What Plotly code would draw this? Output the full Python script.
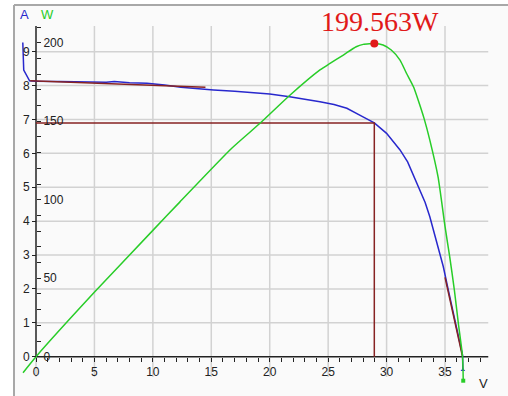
import plotly.graph_objects as go

# ---------------- data ----------------
# I-V curve (blue): voltage [V], current [A]
iv_voltage = [-1.13, -1.12, -1.05, -0.55, 0.0, 2.0, 4.0, 6.0, 6.7, 8.0, 9.5, 11.0, 12.4,
              14.1, 15.2, 17.0, 18.5, 20.0, 21.7, 23.0, 24.3, 25.5, 26.6, 27.7, 28.95,
              30.0, 31.15, 31.8, 32.3, 32.86, 33.3, 33.7, 34.3, 34.85, 35.28, 35.71,
              36.14, 36.5, 36.53]
iv_current = [9.27, 8.9, 8.46, 8.14, 8.13, 8.12, 8.11, 8.10, 8.12, 8.08, 8.07, 8.02, 7.95,
              7.89, 7.87, 7.83, 7.79, 7.75, 7.67, 7.60, 7.52, 7.44, 7.33, 7.13, 6.90,
              6.59, 6.10, 5.75, 5.36, 4.92, 4.55, 4.13, 3.35, 2.66, 1.97, 1.28,
              0.59, 0.05, -0.39]

# P-V curve (green): voltage [V], power [W]
pv_voltage = [-1.11, 0.0, 5.05, 10.0, 12.3, 16.75, 19.17, 21.7, 24.3, 25.16, 26.3, 27.4,
              28.0, 28.6, 28.95, 29.7, 30.4, 31.15, 31.7, 32.3, 32.7, 33.2, 33.7, 34.4,
              35.0, 35.4, 35.8, 36.14, 36.5, 36.56]
pv_power = [-10.2, 0.0, 41.5, 80.5, 98.5, 132.8, 148.7, 166.4, 182.7, 186.9, 192.2, 197.5,
            199.0, 199.4, 199.563, 198.6, 195.4, 189.0, 180.6, 172.0, 163.6, 152.0, 138.0,
            114.7, 83.0, 63.7, 42.5, 21.3, 0.0, -15.3]

# maximum power point
mpp_voltage = 28.95
mpp_power = 199.563
mpp_current = 6.893
mpp_label = "199.563W"

# tangent (fit) segments near Isc and Voc (brown)
isc_fit_voltage = [-0.5, 14.5]
isc_fit_current = [8.14, 7.95]
voc_fit_voltage = [35.0, 36.5]
voc_fit_current = [2.34, 0.0]

# ticks
v_ticks = [0, 5, 10, 15, 20, 25, 30, 35]
v_minor = [v for v in range(1, 39) if v % 5 != 0]
a_ticks = [0, 1, 2, 3, 4, 5, 6, 7, 8, 9]
w_ticks = [0, 50, 100, 150, 200]
w_minor = [w for w in range(10, 220, 10) if w % 50 != 0]

# axis extents
V_RANGE = [-1.883, 40.39]
A_RANGE = [-1.160, 10.378]
W_RANGE = [-25.04, 224.09]
V_AXIS_END = 38.7
A_AXIS_TOP = 9.76
GRID_BOTTOM = -0.6

# ---------------- styling ----------------
W_PX, H_PX = 508, 396
BLUE = "rgb(40,40,205)"
GREEN = "rgb(40,205,40)"
BROWN = "rgb(135,35,35)"
RED = "rgb(225,25,25)"
GRID = "#d2d2d2"
FONT = "Liberation Sans, Arial, sans-serif"


def px_x(p):
    return p / W_PX


def px_y(p):
    return 1 - p / H_PX


fig = go.Figure()

# I-V curve
fig.add_trace(go.Scatter(x=iv_voltage, y=iv_current, mode="lines",
                         line=dict(color=BLUE, width=1.5), yaxis="y"))
fig.add_trace(go.Scatter(x=[iv_voltage[-1]], y=[iv_current[-1]], mode="markers",
                         marker=dict(color=BLUE, size=4, symbol="triangle-up"), yaxis="y"))

# brown helper lines
fig.add_trace(go.Scatter(x=[0, mpp_voltage, mpp_voltage], y=[mpp_current, mpp_current, 0],
                         mode="lines", line=dict(color=BROWN, width=1.5), yaxis="y"))
fig.add_trace(go.Scatter(x=isc_fit_voltage, y=isc_fit_current, mode="lines",
                         line=dict(color=BROWN, width=1.5), yaxis="y"))
fig.add_trace(go.Scatter(x=voc_fit_voltage, y=voc_fit_current, mode="lines",
                         line=dict(color=BROWN, width=1.5), yaxis="y"))

# P-V curve
fig.add_trace(go.Scatter(x=pv_voltage, y=pv_power, mode="lines", line_shape="spline",
                         line=dict(color=GREEN, width=1.5, smoothing=0.6), yaxis="y2"))
fig.add_trace(go.Scatter(x=[pv_voltage[-1]], y=[pv_power[-1]], mode="markers",
                         marker=dict(color=GREEN, size=4, symbol="square"), yaxis="y2"))

# MPP dot
fig.add_trace(go.Scatter(x=[mpp_voltage], y=[mpp_power], mode="markers",
                         marker=dict(color=RED, size=8), yaxis="y2"))

# grid + axis lines as shapes
shapes = []
for v in v_ticks[1:]:
    shapes.append(dict(type="line", xref="x", yref="y", x0=v, x1=v,
                       y0=GRID_BOTTOM, y1=A_AXIS_TOP, layer="below",
                       line=dict(color=GRID, width=1.5)))
shapes.append(dict(type="line", xref="x", yref="y", x0=0, x1=0,
                   y0=GRID_BOTTOM, y1=0, layer="below", line=dict(color=GRID, width=1.5)))
for a in a_ticks[1:]:
    shapes.append(dict(type="line", xref="x", yref="y", x0=0, x1=V_AXIS_END,
                       y0=a, y1=a, layer="below", line=dict(color=GRID, width=1.5)))
# axis lines
shapes.append(dict(type="line", xref="x", yref="y", x0=0, x1=V_AXIS_END, y0=0, y1=0,
                   line=dict(color="#222", width=1.5), layer="below"))
shapes.append(dict(type="line", xref="x", yref="y", x0=0, x1=0, y0=0, y1=A_AXIS_TOP,
                   line=dict(color="#222", width=1.5), layer="below"))
# panel border (left and top)
shapes.append(dict(type="line", xref="paper", yref="paper", x0=px_x(14), x1=px_x(14),
                   y0=0, y1=px_y(5), line=dict(color="#a8a8a8", width=2)))
shapes.append(dict(type="line", xref="paper", yref="paper", x0=px_x(14), x1=1,
                   y0=px_y(5), y1=px_y(5), line=dict(color="#a8a8a8", width=2)))

annotations = [
    dict(x=mpp_voltage, y=mpp_power, xref="x", yref="y2", text=mpp_label,
         showarrow=False, xshift=6, yshift=22, xanchor="center", yanchor="middle",
         font=dict(family="Liberation Serif, Times New Roman, serif", size=28, color=RED)),
    dict(x=px_x(24), y=px_y(14), xref="paper", yref="paper", text="A", showarrow=False,
         xanchor="center", yanchor="middle",
         font=dict(family=FONT, size=13, color=BLUE)),
    dict(x=px_x(47), y=px_y(14), xref="paper", yref="paper", text="W", showarrow=False,
         xanchor="center", yanchor="middle",
         font=dict(family=FONT, size=13, color=GREEN)),
    dict(x=px_x(483), y=px_y(383), xref="paper", yref="paper", text="V", showarrow=False,
         xanchor="center", yanchor="middle",
         font=dict(family=FONT, size=13, color="#222")),
]

tickfont = dict(family=FONT, size=12, color="#222")

fig.update_layout(
    width=W_PX, height=H_PX,
    margin=dict(l=0, r=0, t=0, b=0),
    paper_bgcolor="white",
    plot_bgcolor="#fafafa",
    showlegend=False,
    hovermode=False,
    shapes=shapes,
    annotations=annotations,
    xaxis=dict(domain=[px_x(14), 1], range=V_RANGE, anchor="free", position=px_y(356.7),
               showgrid=False, zeroline=False, showline=False,
               tickmode="array", tickvals=v_ticks, ticktext=[str(v) for v in v_ticks],
               ticks="outside", ticklen=4, tickwidth=1.2, tickcolor="#222",
               tickfont=tickfont, automargin=False,
               minor=dict(tickvals=v_minor, ticks="outside", ticklen=4, tickwidth=1.2,
                          tickcolor="#222", showgrid=False)),
    yaxis=dict(domain=[0, px_y(5)], range=A_RANGE, anchor="free", position=px_x(36),
               side="left", showgrid=False, zeroline=False, showline=False,
               tickmode="array", tickvals=a_ticks, ticktext=[str(a) for a in a_ticks],
               ticks="outside", ticklen=4, tickwidth=1.2, tickcolor="#222",
               tickfont=tickfont, automargin=False),
    yaxis2=dict(domain=[0, px_y(5)], range=W_RANGE, overlaying="y", anchor="free",
                position=px_x(36), side="right", showgrid=False, zeroline=False,
                showline=False, tickmode="array", tickvals=w_ticks,
                ticktext=[str(w) for w in w_ticks],
                ticks="outside", ticklen=4, tickwidth=1.2, tickcolor="#222",
                tickfont=tickfont, automargin=False,
                minor=dict(tickvals=w_minor, ticks="outside", ticklen=4, tickwidth=1.2,
                           tickcolor="#222", showgrid=False)),
)

fig.write_html("out.html", config={"displayModeBar": False},
               post_script="document.body.style.margin='0';")
